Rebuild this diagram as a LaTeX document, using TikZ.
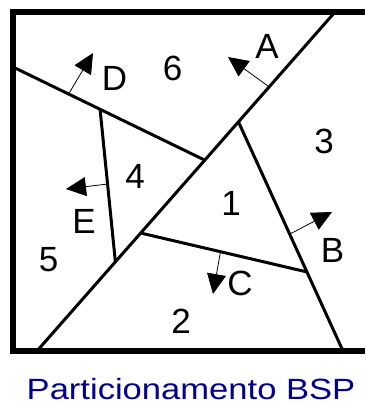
\documentclass[tikz,border=0pt]{standalone}
\usepackage{fontspec}
\setmainfont{Liberation Sans}
\usetikzlibrary{arrows.meta,calc}
\definecolor{titleblue}{RGB}{0,0,140}

\begin{document}
\begin{tikzpicture}[x=1pt,y=-1pt,
	wall/.style={line width=6pt},
	cut/.style={line width=3pt},
	normal/.style={line width=0.8pt,-{Triangle[length=20pt,width=19pt]}},
	region/.style={anchor=base,inner sep=0pt,font=\fontsize{35}{40}\selectfont}]
\useasboundingbox (0,0) rectangle (365,405);
% frame, open on the right
\draw[wall] (365,12) -- (13,12) -- (13,351) -- (365,351);
% the cuts
\coordinate (a1) at (335,12);
\coordinate (a2) at (37,351);
\coordinate (b1) at ($(a1)!0.324!(a2)$);
\coordinate (b2) at (343,351);
\coordinate (c1) at ($(a1)!0.652!(a2)$);
\coordinate (c2) at ($(b1)!0.655!(b2)$);
\coordinate (d1) at (13,67);
\coordinate (d2) at ($(a1)!0.437!(a2)$);
\coordinate (e1) at ($(d1)!0.454!(d2)$);
\coordinate (e2) at ($(a1)!0.737!(a2)$);
\foreach \p in {a,b,c,d,e}
	\draw[cut] (\p1) -- (\p2);
% normals
\coordinate (na) at ($(a1)!0.221!(a2)$);
\coordinate (nb) at ($(b1)!0.49!(b2)$);
\coordinate (nc) at ($(c1)!0.48!(c2)$);
\coordinate (nd) at ($(d1)!0.29!(d2)$);
\coordinate (ne) at ($(e1)!0.49!(e2)$);
\coordinate (ta) at (228,57);
\coordinate (tb) at (332,212);
\coordinate (tc) at (213,294);
\coordinate (td) at (93,53);
\coordinate (te) at (66,189);
\foreach \p in {a,b,c,d,e}
	\draw[normal] (n\p) -- (t\p);
% labels
\foreach \x / \y / \t in {267/58/A, 114.5/90/D, 172.5/80/6, 324/153/3, 135/188/4,
	231/215/1, 84/233/E, 332.5/262/B, 48.5/271/5, 240/295/C, 181/333/2}
	\node[region] (l\t) at (\x,\y) {\t};
\node[anchor=base,inner sep=0pt,text=titleblue,font=\fontsize{29.3}{34}\selectfont]
	(title) at (191,399) {\scalebox{1.18}[1]{Particionamento BSP}};
\end{tikzpicture}
\end{document}
